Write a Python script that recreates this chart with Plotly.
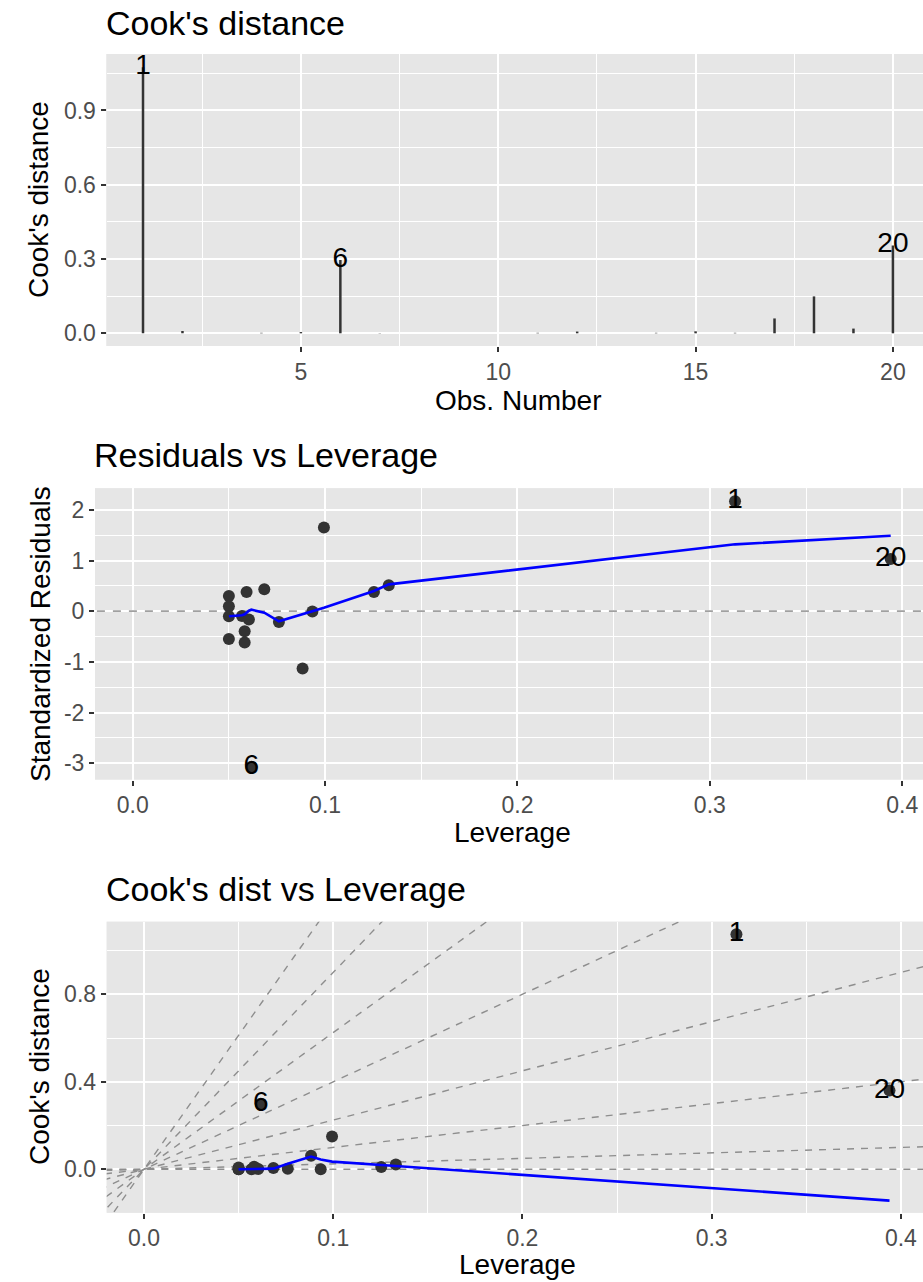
import plotly.graph_objects as go

# ---- data -------------------------------------------------------------
obs_number = [1, 2, 3, 4, 5, 6, 7, 8, 9, 10, 11, 12, 13, 14, 15, 16, 17, 18, 19, 20]
cooks_d = [1.074, 0.009, 0.0003, 0.002, 0.005, 0.296, 0.001, 0.0002, 0.0001, 0.0003,
           0.002, 0.007, 0.0002, 0.002, 0.008, 0.002, 0.060, 0.149, 0.019, 0.355]
cooks_labels = {1: "1", 6: "6", 20: "20"}

leverage = [0.3131, 0.0500, 0.0500, 0.0500, 0.0500, 0.0617, 0.0568, 0.0592, 0.0604, 0.0582,
            0.0582, 0.0684, 0.0760, 0.0934, 0.0883, 0.0994, 0.1254, 0.1331, 0.3940]
std_resid = [2.17, 0.302, 0.099, -0.099, -0.547, -3.07, -0.093, 0.381, -0.164, -0.395,
             -0.618, 0.434, -0.211, -0.005, -1.131, 1.652, 0.381, 0.513, 1.03]
cooks_at_lev = [1.074, 0.002, 0.000, 0.000, 0.008, 0.300, 0.000, 0.005, 0.001, 0.005,
                0.012, 0.006, 0.002, 0.000, 0.062, 0.150, 0.011, 0.022, 0.360]
point_labels = ["1", "", "", "", "", "6", "", "", "", "", "", "", "", "", "", "", "", "", "20"]

resid_smooth_lev = [0.0500, 0.0568, 0.0582, 0.0592, 0.0604, 0.0617, 0.0684, 0.0760,
                    0.0883, 0.0934, 0.0994, 0.1254, 0.1331, 0.3131, 0.3940]
resid_smooth = [-0.10, -0.08, -0.06, -0.03, 0.01, 0.03, -0.03, -0.20,
                -0.06, -0.01, 0.07, 0.40, 0.53, 1.32, 1.49]

cook_smooth_lev = [0.0500, 0.0568, 0.0604, 0.0684, 0.0760, 0.0883, 0.0934, 0.0994, 0.1331, 0.3940]
cook_smooth = [0.000, 0.000, 0.000, 0.003, 0.025, 0.058, 0.045, 0.035, 0.015, -0.143]

contour_slopes = [0, 0.25, 1, 2.25, 4, 6.25, 9, 12.25]

# tick positions / labels
p1_xticks = [5, 10, 15, 20]
p1_xminor = [2.5, 7.5, 12.5, 17.5]
p1_yticks = [0.0, 0.3, 0.6, 0.9]
p1_ytext = ["0.0", "0.3", "0.6", "0.9"]
p1_yminor = [0.15, 0.45, 0.75, 1.05]

lev_ticks = [0.0, 0.1, 0.2, 0.3, 0.4]
lev_text = ["0.0", "0.1", "0.2", "0.3", "0.4"]
lev_minor = [0.05, 0.15, 0.25, 0.35]

p2_yticks = [-3, -2, -1, 0, 1, 2]
p2_ytext = ["-3", "-2", "-1", "0", "1", "2"]
p2_yminor = [-2.5, -1.5, -0.5, 0.5, 1.5]

p3_yticks = [0.0, 0.4, 0.8]
p3_ytext = ["0.0", "0.4", "0.8"]
p3_yminor = [0.2, 0.6, 1.0]

# ---- style -------------------------------------------------------------
W, H = 923, 1282
FONT = "Liberation Sans, Arial, Helvetica, sans-serif"
PANEL_BG = "#E6E6E6"
POINT_COL = "#333333"
TICK_FONT = dict(family=FONT, size=23, color="#4D4D4D")


def px_x(p):
    return p / W


def px_y(p):
    return 1 - p / H


def axis(domain, rng, tickvals, ticktext, minor_vals, anchor):
    return dict(
        domain=domain, range=rng, anchor=anchor,
        tickmode="array", tickvals=tickvals, ticktext=ticktext,
        ticks="outside", ticklen=5, tickwidth=2, tickcolor="#333333",
        tickfont=TICK_FONT,
        showgrid=True, gridcolor="white", gridwidth=2,
        minor=dict(tickmode="array", tickvals=minor_vals, showgrid=True,
                   gridcolor="white", gridwidth=1, ticks=""),
        zeroline=False, showline=False, fixedrange=True,
    )


fig = go.Figure()

# ---- panel 1: Cook's distance per observation --------------------------
seg_x, seg_y = [], []
for n, d in zip(obs_number, cooks_d):
    seg_x += [n, n, None]
    seg_y += [0, d, None]
fig.add_trace(go.Scatter(x=seg_x, y=seg_y, mode="lines", xaxis="x", yaxis="y",
                         line=dict(color=POINT_COL, width=2.5), hoverinfo="skip"))
lab_n = [n for n in obs_number if n in cooks_labels]
fig.add_trace(go.Scatter(
    x=lab_n, y=[cooks_d[n - 1] for n in lab_n], text=[cooks_labels[n] for n in lab_n],
    mode="text", textposition="middle center", xaxis="x", yaxis="y",
    textfont=dict(family=FONT, size=28, color="black"), cliponaxis=False))

# ---- panel 2: residuals vs leverage -------------------------------------
fig.add_trace(go.Scatter(x=[-1, 1], y=[0, 0], mode="lines", xaxis="x2", yaxis="y2",
                         line=dict(color="#A0A0A0", width=1.7, dash="8px,8px"),
                         hoverinfo="skip"))
fig.add_trace(go.Scatter(x=leverage, y=std_resid, mode="markers", xaxis="x2", yaxis="y2",
                         marker=dict(color=POINT_COL, size=12)))
fig.add_trace(go.Scatter(x=resid_smooth_lev, y=resid_smooth, mode="lines",
                         xaxis="x2", yaxis="y2", line=dict(color="#0000FF", width=2.6)))
fig.add_trace(go.Scatter(x=leverage, y=std_resid, text=point_labels, mode="text",
                         textposition="middle center", xaxis="x2", yaxis="y2",
                         textfont=dict(family=FONT, size=28, color="black"),
                         cliponaxis=False))

# ---- panel 3: Cook's distance vs leverage --------------------------------
lev_lo, lev_hi = -0.05, 0.5
for s in contour_slopes:
    fig.add_trace(go.Scatter(x=[lev_lo, lev_hi], y=[s * lev_lo, s * lev_hi], mode="lines",
                             xaxis="x3", yaxis="y3",
                             line=dict(color="#8E8E8E", width=1.4, dash="7px,7px"),
                             hoverinfo="skip"))
fig.add_trace(go.Scatter(x=leverage, y=cooks_at_lev, mode="markers", xaxis="x3", yaxis="y3",
                         marker=dict(color=POINT_COL, size=12)))
fig.add_trace(go.Scatter(x=cook_smooth_lev, y=cook_smooth, mode="lines",
                         xaxis="x3", yaxis="y3", line=dict(color="#0000FF", width=2.6)))
fig.add_trace(go.Scatter(x=leverage, y=cooks_at_lev, text=point_labels, mode="text",
                         textposition="middle center", xaxis="x3", yaxis="y3",
                         textfont=dict(family=FONT, size=28, color="black"),
                         cliponaxis=False))

# ---- axes ----------------------------------------------------------------
layout_axes = dict(
    xaxis=axis([px_x(106.5), 1.0], [0.075, 20.762], p1_xticks, [str(v) for v in p1_xticks],
               p1_xminor, "y"),
    yaxis=axis([px_y(346), px_y(54)], [-0.0513, 1.128], p1_yticks, p1_ytext, p1_yminor, "x"),
    xaxis2=axis([px_x(95), 1.0], [-0.0196, 0.4108], lev_ticks, lev_text, lev_minor, "y2"),
    yaxis2=axis([px_y(779.5), px_y(488.3)], [-3.322, 2.426], p2_yticks, p2_ytext,
                p2_yminor, "x2"),
    xaxis3=axis([px_x(106.7), 1.0], [-0.0197, 0.4117], lev_ticks, lev_text, lev_minor, "y3"),
    yaxis3=axis([px_y(1212.7), px_y(921.7)], [-0.1984, 1.1318], p3_yticks, p3_ytext,
                p3_yminor, "x3"),
)

# ---- titles and axis titles ---------------------------------------------
def note(text, x, y, size, xanchor="center", angle=0):
    return dict(text=text, x=px_x(x), y=px_y(y), xref="paper", yref="paper",
                xanchor=xanchor, yanchor="middle", showarrow=False, textangle=angle,
                font=dict(family=FONT, size=size, color="black"))


annotations = [
    note("Cook's distance", 104, 23, 34, xanchor="left"),
    note("Residuals vs Leverage", 92, 455, 34, xanchor="left"),
    note("Cook's dist vs Leverage", 104, 889, 34, xanchor="left"),
    note("Obs. Number", 518.5, 401, 28),
    note("Leverage", 512, 832, 28),
    note("Leverage", 517.5, 1264, 28),
    note("Cook's distance", 39, 200, 28, angle=-90),
    note("Standardized Residuals", 40, 634, 28, angle=-90),
    note("Cook's distance", 39, 1067, 28, angle=-90),
]

# panel backgrounds
shapes = []
for xa, ya in [("x", "y"), ("x2", "y2"), ("x3", "y3")]:
    shapes.append(dict(type="rect", xref=f"{xa} domain", yref=f"{ya} domain",
                       x0=0, x1=1, y0=0, y1=1, fillcolor=PANEL_BG, line=dict(width=0),
                       layer="below"))

fig.update_layout(
    width=W, height=H,
    margin=dict(l=0, r=0, t=0, b=0),
    paper_bgcolor="white", plot_bgcolor=PANEL_BG,
    showlegend=False,
    annotations=annotations,
    shapes=shapes,
    font=dict(family=FONT),
    **layout_axes,
)

fig.write_html("out.html", config={"displayModeBar": False})
